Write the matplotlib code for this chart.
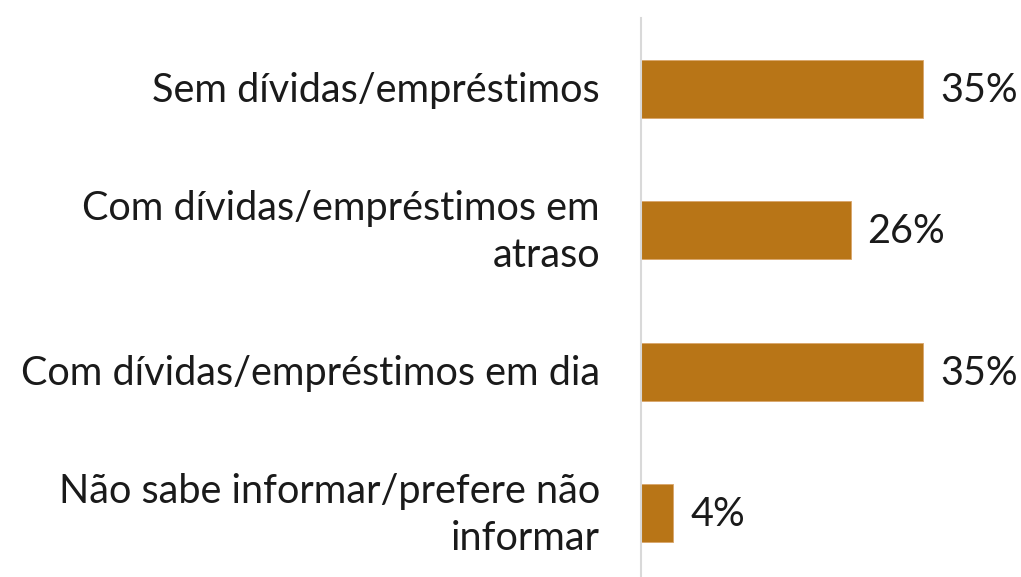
import matplotlib
matplotlib.use("Agg")
import matplotlib.pyplot as plt

# données
categories = [
    "Sem dívidas/empréstimos",
    "Com dívidas/empréstimos em\natraso",
    "Com dívidas/empréstimos em dia",
    "Não sabe informar/prefere não\ninformar",
]
valeurs = [35, 26, 35, 4]
etiquettes = ["35%", "26%", "35%", "4%"]

plt.rcParams['font.family'] = ['Lato', 'DejaVu Sans']

fig = plt.figure(figsize=(10.21, 5.77), dpi=100)
ax = fig.add_axes([641 / 1021, -7 / 577, 380 / 1021, 566 / 577])

y = range(len(categories))
ax.barh(y, valeurs, height=0.41, color="#B87517", edgecolor="#D9A56A", linewidth=0.6)

ax.set_ylim(3.5, -0.5)
ax.set_xlim(0, 380 / 8.06)

for i, (v, lab) in enumerate(zip(valeurs, etiquettes)):
    ax.text(v + 17 / 8.06, i + 0.01, lab, va="center", ha="left", fontsize=28.5, color="#1a1a1a")

for i, cat in enumerate(categories):
    ax.text(-41 / 8.06, i + 0.01, cat, va="center", ha="right", multialignment="right",
            fontsize=28.5, color="#1a1a1a", linespacing=1.34)

ax.set_xticks([])
ax.set_yticks([])
for s in ["top", "right", "bottom"]:
    ax.spines[s].set_visible(False)
ax.spines["left"].set_color("#D9D9D9")
ax.spines["left"].set_linewidth(1.5)

fig.savefig("out.png", dpi=100)
